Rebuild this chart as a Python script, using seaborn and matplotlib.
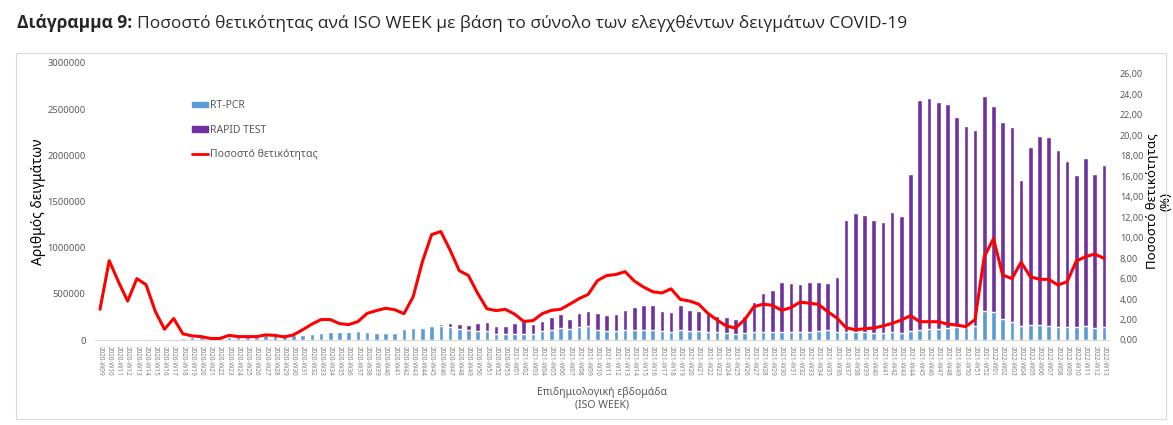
import numpy as np
import pandas as pd
import matplotlib
matplotlib.use("Agg")
import matplotlib.pyplot as plt
import seaborn as sns
from matplotlib.patches import Patch, Rectangle
from matplotlib.lines import Line2D

# ISO weeks 2020-W09 .. 2022-W13
weeks = ([f"2020-W{w:02d}" for w in range(9, 54)]
         + [f"2021-W{w:02d}" for w in range(1, 53)]
         + [f"2022-W{w:02d}" for w in range(1, 14)])

rt_pcr = [2000, 3000, 4000, 5000, 7000, 7000, 7000, 8000, 12000, 18000,
          32000, 32000, 28000, 28000, 32000, 32000, 32000, 35000, 55000, 60000,
          62000, 55000, 58000, 68000, 80000, 87000,
          83000, 83000, 97000, 83000, 76000, 76000,
          80000, 122000, 135000, 133000, 152000, 152000, 144000, 119000, 105000, 97000,
          97000, 69000, 69000, 69000, 69000, 69000, 101000, 112000, 134000, 119000,
          141000, 152000,
          108000, 101000, 97000, 112000, 108000, 108000, 108000, 94000, 90000, 108000,
          97000, 94000, 87000, 83000, 76000, 69000, 76000, 83000, 90000, 90000,
          87000, 87000, 83000, 90000, 97000, 108000, 90000,
          90000, 90000, 90000, 76000, 76000, 87000, 76000, 101000, 108000, 119000,
          119000, 130000, 141000, 137000, 152000, 318000, 307000, 231000, 191000, 152000,
          166000, 159000, 155000, 141000, 137000, 141000, 152000, 130000, 141000]

rapid_test = [0] * 32 + [
          3000, 4000, 6000, 8000, 10000, 18000, 40000, 58000, 57000, 87000,
          98000, 83000, 83000, 111000, 133000, 104000, 108000, 137000, 144000, 108000,
          155000, 166000,
          181000, 166000, 181000, 216000, 253000, 267000, 267000, 220000, 213000, 271000,
          228000, 216000, 202000, 181000, 169000, 155000, 188000, 332000, 423000, 448000,
          538000, 530000, 520000, 535000, 528000, 509000, 592000,
          1206000, 1289000, 1264000, 1224000, 1198000, 1296000, 1267000, 1697000, 2495000, 2498000,
          2455000, 2430000, 2274000, 2177000, 2119000, 2325000, 2227000, 2134000, 2112000, 1581000,
          1928000, 2050000, 2040000, 1913000, 1798000, 1642000, 1819000, 1664000, 1754000]

positivity = [3.0, 7.75, 5.7, 3.8, 6.0, 5.4, 2.8, 1.05, 2.1, 0.6,
              0.4, 0.33, 0.15, 0.15, 0.45, 0.33, 0.33, 0.33, 0.5, 0.45,
              0.3, 0.5, 1.0, 1.55, 2.0, 2.0, 1.6, 1.5, 1.8, 2.6,
              2.87, 3.1, 2.96, 2.57, 4.23, 7.65, 10.3, 10.6, 8.8, 6.78,
              6.3, 4.56, 3.06, 2.87, 3.0, 2.54, 1.82, 1.89, 2.57, 2.9,
              3.0, 3.5, 4.04, 4.46, 5.8, 6.3, 6.4, 6.68, 5.77, 5.18,
              4.72, 4.6, 5.0, 3.97, 3.81, 3.5, 2.6, 1.95, 1.37, 1.17,
              2.0, 3.26, 3.5, 3.39, 2.9, 3.16, 3.7, 3.6, 3.48, 2.77,
              2.15, 1.2, 1.0, 1.1, 1.17, 1.37, 1.63, 1.95, 2.38, 1.79,
              1.79, 1.79, 1.56, 1.47, 1.3, 2.0, 8.14, 9.9, 6.35, 6.0,
              7.6, 6.19, 5.93, 5.93, 5.37, 5.7, 7.72, 8.14, 8.4, 7.98]

BLUE = "#5B9BD5"
PURPLE = "#7030A0"
RED = "#FF0000"
GREY = "#595959"

df = pd.DataFrame({"week": weeks, "rt_pcr": rt_pcr, "rapid": rapid_test})
df["total"] = df["rt_pcr"] + df["rapid"]

sns.set_style("white")
plt.rcParams["font.family"] = ["Noto Sans", "DejaVu Sans"]

W, H = 1173, 425
fig = plt.figure(figsize=(W / 100, H / 100), dpi=100)
ax = fig.add_axes([95.4 / W, 85 / H, 1013.2 / W, 277 / H])

# stacked bars: total (purple) then RT-PCR (blue) drawn over it from the base
sns.barplot(data=df, x="week", y="total", color=PURPLE, saturation=1, width=0.5, ax=ax)
sns.barplot(data=df, x="week", y="rt_pcr", color=BLUE, saturation=1, width=0.5, ax=ax)

ax.set_ylim(0, 3000000)
ax.set_yticks(range(0, 3000001, 500000))
ax.set_yticklabels([str(v) for v in range(0, 3000001, 500000)], fontsize=6.8, color=GREY)
ax.tick_params(axis="x", labelrotation=-90, labelsize=4.6, labelcolor="#7F7F7F", length=0, pad=4)
ax.tick_params(axis="y", length=0, pad=7)
ax.set_xlabel("Επιδημιολογική εβδομάδα\n(ISO WEEK)", fontsize=7.5, color=GREY, labelpad=8)
ax.set_ylabel("Αριθμός δειγμάτων", fontsize=10, color="black", labelpad=1)
for s in ["top", "left", "right"]:
    ax.spines[s].set_visible(False)
ax.spines["bottom"].set_color("#D9D9D9")

ax2 = ax.twinx()
sns.lineplot(x=np.arange(len(weeks)), y=positivity, color=RED, linewidth=2.2, ax=ax2, legend=False)
ax2.set_ylim(0, 27.07)
ticks = np.arange(0, 27, 2)
ax2.set_yticks(ticks)
ax2.set_yticklabels([f"{t:.2f}".replace(".", ",") for t in ticks], fontsize=6.5, color=GREY)
ax2.tick_params(axis="y", length=0, pad=8)
ax2.set_ylabel("Ποσοστό θετικότητας\n(%)", fontsize=9.5, color="black", rotation=90,
               labelpad=2, linespacing=1.1)
for s in ["top", "left", "right", "bottom"]:
    ax2.spines[s].set_visible(False)
ax.set_xlim(-0.5, len(weeks) - 0.5)

handles = [Patch(color=BLUE), Patch(color=PURPLE), Line2D([0], [0], color=RED, linewidth=2)]
fig.legend(handles, ["RT-PCR", "RAPID TEST", "Ποσοστό θετικότητας"],
           loc="upper left", bbox_to_anchor=(183 / W, 1 - 91 / H), frameon=False,
           fontsize=7.5, labelcolor=GREY, handlelength=1.5, handleheight=0.45,
           handletextpad=0.2, labelspacing=1.3)

# chart frame
fig.patches.append(Rectangle((16 / W, 6 / H), 1150 / W, (419 - 53) / H, transform=fig.transFigure,
                             fill=False, edgecolor="#D9D9D9", linewidth=0.8))

title_font = ["Open Sans", "Roboto", "DejaVu Sans"]
t1 = fig.text(17 / W, 1 - 23 / H, "Διάγραμμα 9:", fontsize=12.5, fontweight="bold",
              family=title_font, va="center")
fig.canvas.draw()
bb = t1.get_window_extent()
fig.text(bb.x1 / W + 5 / W, 1 - 23 / H,
         "Ποσοστό θετικότητας ανά ISO WEEK με βάση το σύνολο των ελεγχθέντων δειγμάτων COVID-19",
         fontsize=12.5, family=title_font, va="center")

fig.savefig("out.png", dpi=100)
